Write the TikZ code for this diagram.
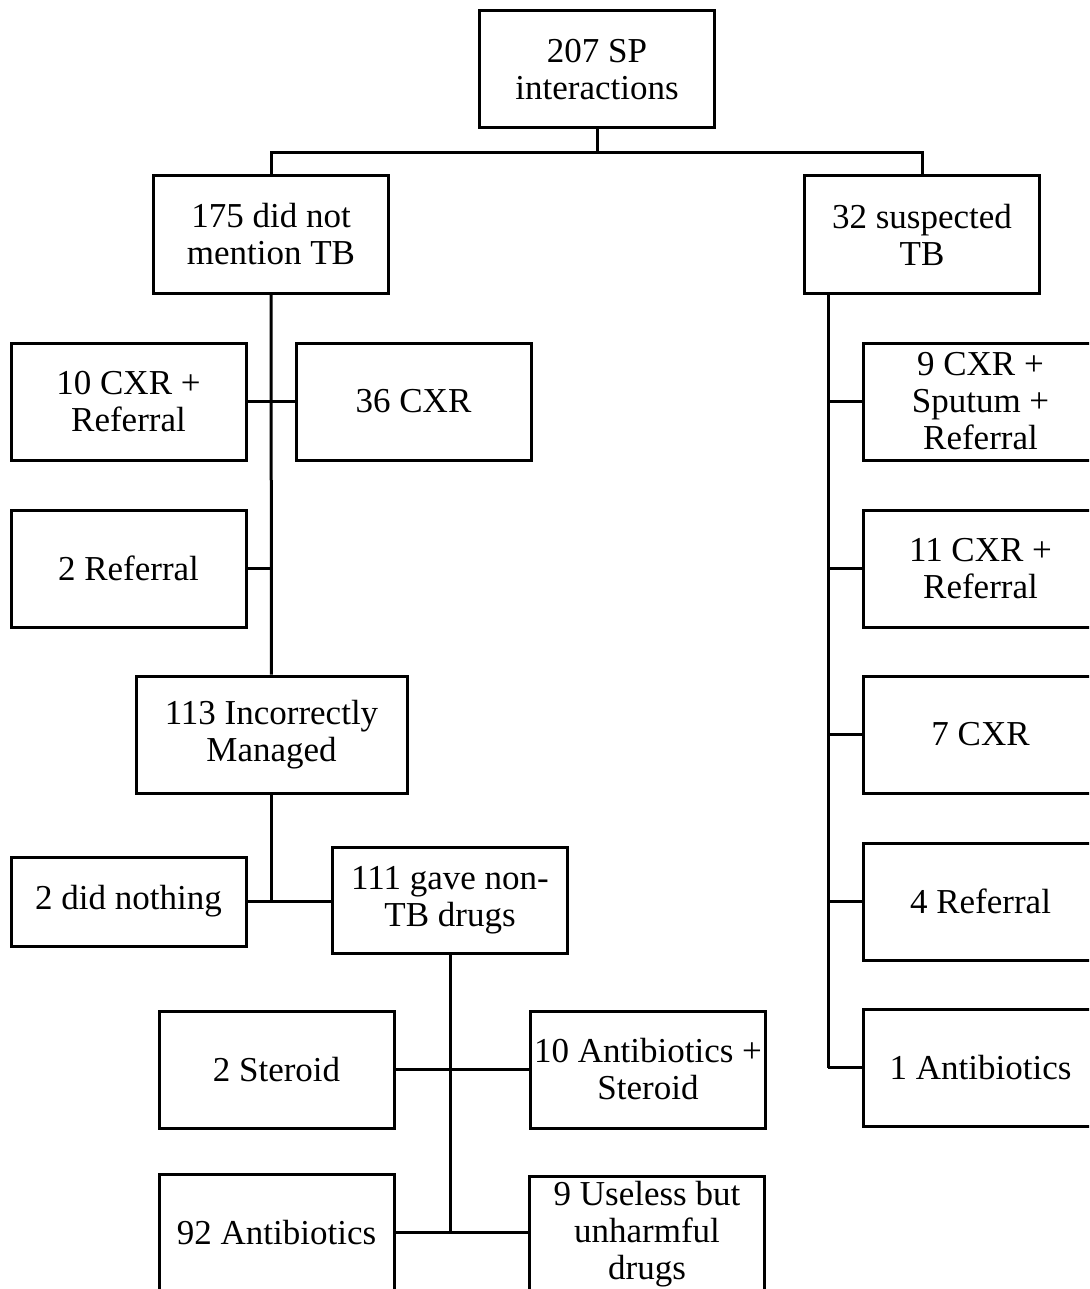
\documentclass[tikz,border=0pt]{standalone}
\usepackage{fontspec}
\setmainfont{Liberation Serif}
\usepackage{tikz}
\usetikzlibrary{positioning}

\begin{document}
\begin{tikzpicture}[x=0.5pt,y=-0.5pt,line width=1.5pt,
    box/.style={draw,line width=1.5pt,minimum width=117.5pt,minimum height=58.5pt,
        align=center,inner sep=1pt,font=\fontsize{17.5}{18.5}\selectfont}]
    \clip (0,0) rectangle (1089,1289);

    \node[box] (sp) at (597,69.5) {207 SP\\interactions};
    \node[box] (nomention) at (271,234.5) {175 did not\\mention TB};
    \node[box] (suspect) at (922,234.5) {32 suspected\\TB};

    % left branch
    \node[box] (cxrref) at (128.5,401.5) {10 CXR +\\Referral};
    \node[box] (cxr) at (413.5,401.5) {36 CXR};
    \node[box] (ref) at (128.5,568.5) {2 Referral};
    \node[box,minimum width=135.5pt] (wrong) at (271.5,734.5) {113 Incorrectly\\Managed};
    \node[box,minimum height=44.5pt] (nothing) at (128.5,901.5) {2 did nothing};
    \node[box,minimum height=53pt] (nontb) at (450,900) {111 gave non-\\TB drugs};
    \node[box] (steroid) at (276.5,1069.5) {2 Steroid};
    \node[box] (abxster) at (648,1069.5) {10 Antibiotics +\\Steroid};
    \node[box] (abx) at (276.5,1232.5) {92 Antibiotics};
    \node[box] (useless) at (647,1234.5) {9 Useless but\\unharmful\\drugs};

    % right branch
    \node[box] (r1) at (980.5,401.5) {9 CXR +\\Sputum +\\Referral};
    \node[box] (r2) at (980.5,568.5) {11 CXR +\\Referral};
    \node[box] (r3) at (980.5,734.5) {7 CXR};
    \node[box] (r4) at (980.5,901.5) {4 Referral};
    \node[box] (r5) at (980.5,1067.5) {1 Antibiotics};

    \coordinate (split) at (597,153);
    \coordinate (rtop) at (828,293);
    \coordinate (rbot) at (828,1067.5);

    \draw (sp) -- (split);
    \draw (nomention.north) |- (split) -| (suspect.north);
    \draw (nomention) -- (wrong);
    \draw (cxrref) -- (cxr);
    \draw (ref.east) -- (ref.east -| wrong.north);
    \draw (wrong.south) |- (nothing.east);
    \draw (nothing) -- (nothing -| nontb.west);
    \draw (nontb.south) -- (nontb.south |- abx.east);
    \draw (steroid) -- (abxster);
    \draw (abx.east) -- (abx.east -| useless.west);
    \draw (rtop) -- (rbot);
    \foreach \n in {r1,r2,r3,r4,r5}
        \draw (\n.west) -- (\n.west -| rtop);
\end{tikzpicture}
\end{document}
